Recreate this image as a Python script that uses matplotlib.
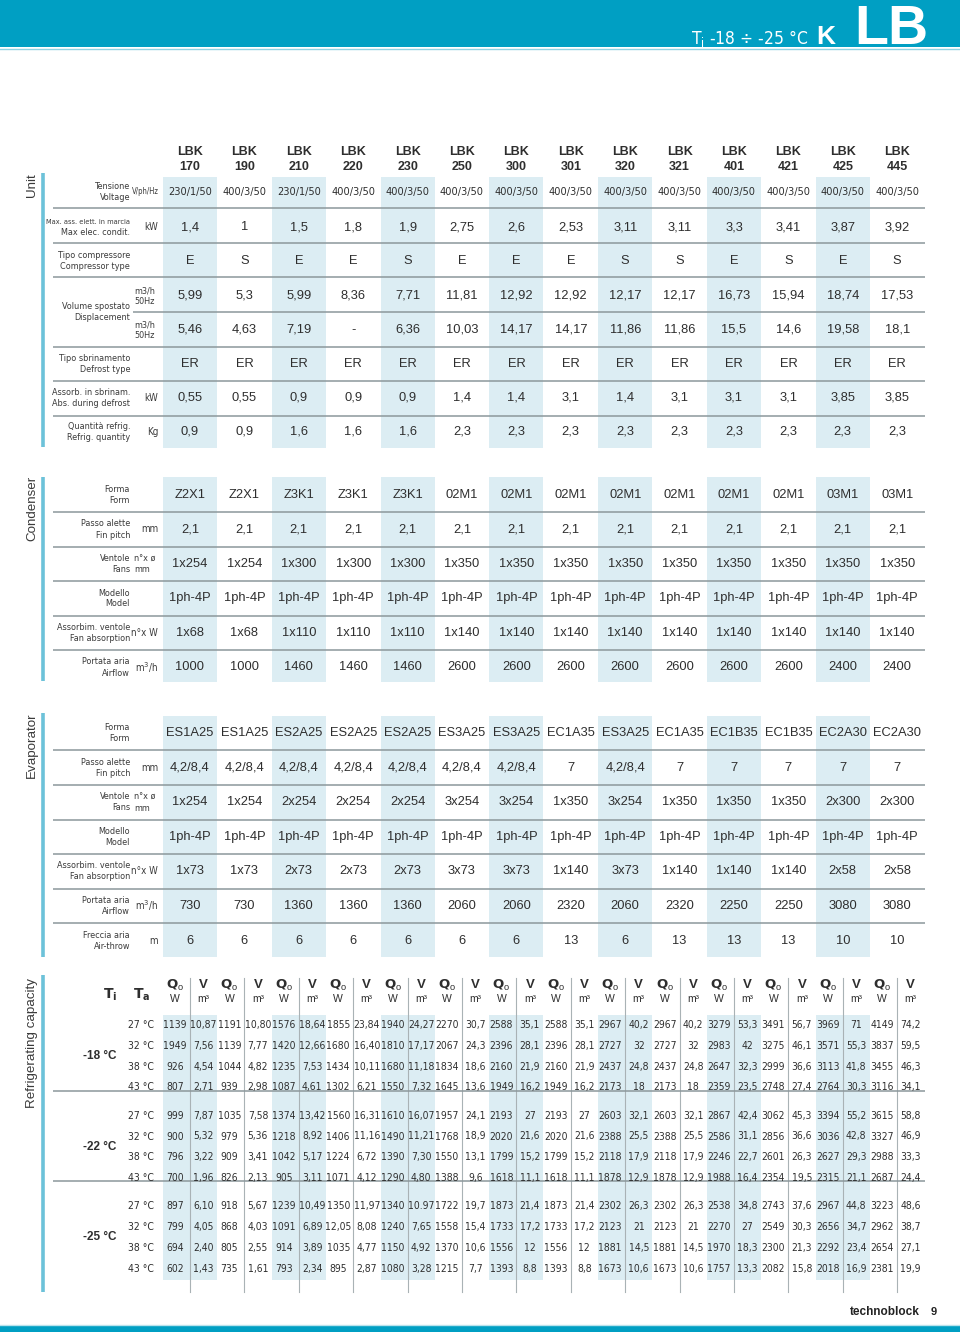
import matplotlib.pyplot as plt
import matplotlib.font_manager as fm
from matplotlib.patches import Rectangle

# ---- data ----
models = ["170", "190", "210", "220", "230", "250", "300",
          "301", "320", "321", "401", "421", "425", "445"]

voltage = ["230/1/50", "400/3/50", "230/1/50", "400/3/50", "400/3/50", "400/3/50", "400/3/50",
           "400/3/50", "400/3/50", "400/3/50", "400/3/50", "400/3/50", "400/3/50", "400/3/50"]
max_elec = ["1,4", "1", "1,5", "1,8", "1,9", "2,75", "2,6",
            "2,53", "3,11", "3,11", "3,3", "3,41", "3,87", "3,92"]
compressor = ["E", "S", "E", "E", "S", "E", "E", "E", "S", "S", "E", "S", "E", "S"]
displ_a = ["5,99", "5,3", "5,99", "8,36", "7,71", "11,81", "12,92",
           "12,92", "12,17", "12,17", "16,73", "15,94", "18,74", "17,53"]
displ_b = ["5,46", "4,63", "7,19", "-", "6,36", "10,03", "14,17",
           "14,17", "11,86", "11,86", "15,5", "14,6", "19,58", "18,1"]
defrost_type = ["ER", "ER", "ER", "ER", "ER", "ER", "ER", "ER", "ER", "ER", "ER", "ER", "ER", "ER"]
defrost_abs = ["0,55", "0,55", "0,9", "0,9", "0,9", "1,4", "1,4",
               "3,1", "1,4", "3,1", "3,1", "3,1", "3,85", "3,85"]
refrig_qty = ["0,9", "0,9", "1,6", "1,6", "1,6", "2,3", "2,3",
              "2,3", "2,3", "2,3", "2,3", "2,3", "2,3", "2,3"]

cond_form = ["Z2X1", "Z2X1", "Z3K1", "Z3K1", "Z3K1", "02M1", "02M1",
             "02M1", "02M1", "02M1", "02M1", "02M1", "03M1", "03M1"]
cond_pitch = ["2,1"] * 14
cond_fans = ["1x254", "1x254", "1x300", "1x300", "1x300", "1x350", "1x350",
             "1x350", "1x350", "1x350", "1x350", "1x350", "1x350", "1x350"]
cond_model = ["1ph-4P"] * 14
cond_fan_abs = ["1x68", "1x68", "1x110", "1x110", "1x110", "1x140", "1x140",
                "1x140", "1x140", "1x140", "1x140", "1x140", "1x140", "1x140"]
cond_airflow = ["1000", "1000", "1460", "1460", "1460", "2600", "2600",
                "2600", "2600", "2600", "2600", "2600", "2400", "2400"]

evap_form = ["ES1A25", "ES1A25", "ES2A25", "ES2A25", "ES2A25", "ES3A25", "ES3A25",
             "EC1A35", "ES3A25", "EC1A35", "EC1B35", "EC1B35", "EC2A30", "EC2A30"]
evap_pitch = ["4,2/8,4", "4,2/8,4", "4,2/8,4", "4,2/8,4", "4,2/8,4", "4,2/8,4", "4,2/8,4",
              "7", "4,2/8,4", "7", "7", "7", "7", "7"]
evap_fans = ["1x254", "1x254", "2x254", "2x254", "2x254", "3x254", "3x254",
             "1x350", "3x254", "1x350", "1x350", "1x350", "2x300", "2x300"]
evap_model = ["1ph-4P"] * 14
evap_fan_abs = ["1x73", "1x73", "2x73", "2x73", "2x73", "3x73", "3x73",
                "1x140", "3x73", "1x140", "1x140", "1x140", "2x58", "2x58"]
evap_airflow = ["730", "730", "1360", "1360", "1360", "2060", "2060",
                "2320", "2060", "2320", "2250", "2250", "3080", "3080"]
evap_throw = ["6", "6", "6", "6", "6", "6", "6", "13", "6", "13", "13", "13", "10", "10"]

t_inside = ["-18 °C", "-22 °C", "-25 °C"]
t_ambient = ["27 °C", "32 °C", "38 °C", "43 °C"]

q_18 = [["1139", "1191", "1576", "1855", "1940", "2270", "2588", "2588", "2967", "2967", "3279", "3491", "3969", "4149"],
        ["1949", "1139", "1420", "1680", "1810", "2067", "2396", "2396", "2727", "2727", "2983", "3275", "3571", "3837"],
        ["926", "1044", "1235", "1434", "1680", "1834", "2160", "2160", "2437", "2437", "2647", "2999", "3113", "3455"],
        ["807", "939", "1087", "1302", "1550", "1645", "1949", "1949", "2173", "2173", "2359", "2748", "2764", "3116"]]
v_18 = [["10,87", "10,80", "18,64", "23,84", "24,27", "30,7", "35,1", "35,1", "40,2", "40,2", "53,3", "56,7", "71", "74,2"],
        ["7,56", "7,77", "12,66", "16,40", "17,17", "24,3", "28,1", "28,1", "32", "32", "42", "46,1", "55,3", "59,5"],
        ["4,54", "4,82", "7,53", "10,11", "11,18", "18,6", "21,9", "21,9", "24,8", "24,8", "32,3", "36,6", "41,8", "46,3"],
        ["2,71", "2,98", "4,61", "6,21", "7,32", "13,6", "16,2", "16,2", "18", "18", "23,5", "27,4", "30,3", "34,1"]]
q_22 = [["999", "1035", "1374", "1560", "1610", "1957", "2193", "2193", "2603", "2603", "2867", "3062", "3394", "3615"],
        ["900", "979", "1218", "1406", "1490", "1768", "2020", "2020", "2388", "2388", "2586", "2856", "3036", "3327"],
        ["796", "909", "1042", "1224", "1390", "1550", "1799", "1799", "2118", "2118", "2246", "2601", "2627", "2988"],
        ["700", "826", "905", "1071", "1290", "1388", "1618", "1618", "1878", "1878", "1988", "2354", "2315", "2687"]]
v_22 = [["7,87", "7,58", "13,42", "16,31", "16,07", "24,1", "27", "27", "32,1", "32,1", "42,4", "45,3", "55,2", "58,8"],
        ["5,32", "5,36", "8,92", "11,16", "11,21", "18,9", "21,6", "21,6", "25,5", "25,5", "31,1", "36,6", "42,8", "46,9"],
        ["3,22", "3,41", "5,17", "6,72", "7,30", "13,1", "15,2", "15,2", "17,9", "17,9", "22,7", "26,3", "29,3", "33,3"],
        ["1,96", "2,13", "3,11", "4,12", "4,80", "9,6", "11,1", "11,1", "12,9", "12,9", "16,4", "19,5", "21,1", "24,4"]]
q_25 = [["897", "918", "1239", "1350", "1340", "1722", "1873", "1873", "2302", "2302", "2538", "2743", "2967", "3223"],
        ["799", "868", "1091", "12,05", "1240", "1558", "1733", "1733", "2123", "2123", "2270", "2549", "2656", "2962"],
        ["694", "805", "914", "1035", "1150", "1370", "1556", "1556", "1881", "1881", "1970", "2300", "2292", "2654"],
        ["602", "735", "793", "895", "1080", "1215", "1393", "1393", "1673", "1673", "1757", "2082", "2018", "2381"]]
v_25 = [["6,10", "5,67", "10,49", "11,97", "10.97", "19,7", "21,4", "21,4", "26,3", "26,3", "34,8", "37,6", "44,8", "48,6"],
        ["4,05", "4,03", "6,89", "8,08", "7,65", "15,4", "17,2", "17,2", "21", "21", "27", "30,3", "34,7", "38,7"],
        ["2,40", "2,55", "3,89", "4,77", "4,92", "10,6", "12", "12", "14,5", "14,5", "18,3", "21,3", "23,4", "27,1"],
        ["1,43", "1,61", "2,34", "2,87", "3,28", "7,7", "8,8", "8,8", "10,6", "10,6", "13,3", "15,8", "16,9", "19,9"]]

# ---- style ----
TEAL = "#009fc3"
BAR = "#6cc2d9"
SHADE = "#dcedf3"
LINE = "#8c979b"
TXT = "#2e2e2e"
LAB = "#3a3a3a"
SANS = dict(family=["Liberation Sans", "DejaVu Sans"])

# pick a condensed face if one is installed
_fonts = fm.fontManager.ttflist
if any(f.name == "Liberation Sans Narrow" for f in _fonts):
    NARROW = dict(family=["Liberation Sans Narrow", "DejaVu Sans"])
elif any(f.name == "DejaVu Sans" and "condensed" in str(f.stretch) for f in _fonts):
    NARROW = dict(family=["DejaVu Sans"], stretch="condensed")
else:
    NARROW = dict(family=["Liberation Sans", "DejaVu Sans"])

fig = plt.figure(figsize=(9.6, 13.32), dpi=100)
ax = fig.add_axes([0, 0, 1, 1])
ax.set_xlim(0, 960)
ax.set_ylim(1332, 0)
ax.axis("off")
renderer = fig.canvas.get_renderer()


def fit_size(sample, target_px, kw, cap):
    t = ax.text(0, 0, sample, fontsize=10, **kw)
    w = t.get_window_extent(renderer).width
    t.remove()
    return min(cap, 10 * target_px / w)


CAP_SIZE = fit_size("1139", 23.3, NARROW, 8.3)
LAB_SIZE = fit_size("Tipo compressore", 72, NARROW, 7.5)
VOLT_SIZE = fit_size("400/3/50", 44, NARROW, 9)
TA_SIZE = fit_size("27 °C", 26, NARROW, 8.5)

col_x = [190 + 54.4 * i for i in range(len(models))]
X_LAB, X_UNIT, X_END = 130, 134, 925
Q_OFF, V_OFF = -15, 13.5


def hline(y, x0=53):
    ax.plot([x0, X_END], [y, y], color=LINE, lw=1.1, solid_capstyle="butt")


def shade(y0, y1):
    for i, cx in enumerate(col_x):
        if i % 2 == 0:
            ax.add_patch(Rectangle((cx - 27, y0), 54, y1 - y0, color=SHADE, lw=0, zorder=0))


def side(title, y0, y1, ty):
    ax.plot([43, 43], [y0, y1], color=BAR, lw=2.6, solid_capstyle="butt")
    ax.text(32, ty, title, rotation=90, ha="center", va="center",
            fontsize=9.6, color=LAB, **SANS)


def label(y, it, en, unit=None, unit2=None):
    for txt, dy in ((it, -5.5), (en, 5.5)):
        if txt:
            size = min(LAB_SIZE, fit_size(txt, 84, NARROW, 9))
            ax.text(X_LAB, y + dy, txt, ha="right", va="center", fontsize=size, color=LAB, **NARROW)
    if unit and unit2:
        ax.text(X_UNIT, y - 5, unit, ha="left", va="center", fontsize=LAB_SIZE, color=LAB, **NARROW)
        ax.text(X_UNIT, y + 6, unit2, ha="left", va="center", fontsize=LAB_SIZE, color=LAB, **NARROW)
    elif unit:
        ax.text(158, y, unit, ha="right", va="center", fontsize=LAB_SIZE + 0.5, color=LAB, **NARROW)


def values(y, vals, size=9.3, kw=SANS):
    for cx, v in zip(col_x, vals):
        ax.text(cx, y, v, ha="center", va="center", fontsize=size, color=TXT, **kw)


# ---- top band ----
ax.add_patch(Rectangle((0, 0), 960, 47, color=TEAL, lw=0))
ax.plot([0, 960], [48.5, 48.5], color="#8fd2e3", lw=1)
ax.text(808, 44, r"T$_\mathregular{i}$ -18 ÷ -25 °C", ha="right", va="baseline",
        fontsize=12.5, color="white", **NARROW)
ax.text(826, 44, "K", ha="center", va="baseline", fontsize=19, color="white",
        fontweight="bold", **SANS)
ax.text(891, 44, "LB", ha="center", va="baseline", fontsize=40, color="white",
        fontweight="heavy", **SANS)

# ---- model header ----
for cx, m in zip(col_x, models):
    ax.text(cx, 152, "LBK", ha="center", va="center", fontsize=9, fontweight="bold", color=TXT, **SANS)
    ax.text(cx, 167, m, ha="center", va="center", fontsize=9, fontweight="bold", color=TXT, **SANS)

# ---- unit ----
shade(177, 448)
side("Unit", 173, 447, 185)
label(192, "Tensione", "Voltage")
ax.text(132, 192, "V/ph/Hz", ha="left", va="center", fontsize=LAB_SIZE - 1, color=LAB, **NARROW)
values(192, voltage, VOLT_SIZE, NARROW)
hline(208)
label(227, "Max. ass. elett. in marcia", "Max elec. condit.", "kW")
values(227, max_elec)
hline(243)
label(261, "Tipo compressore", "Compressor type")
values(261, compressor)
hline(277)
label(312, "Volume spostato", "Displacement")
label(296, "", "", "m3/h", "50Hz")
label(330, "", "", "m3/h", "50Hz")
values(296, displ_a)
hline(312, 133)
values(330, displ_b)
hline(347)
label(364, "Tipo sbrinamento", "Defrost type")
values(364, defrost_type)
hline(381)
label(398, "Assorb. in sbrinam.", "Abs. during defrost", "kW")
values(398, defrost_abs)
hline(416)
label(432, "Quantità refrig.", "Refrig. quantity", "Kg")
values(432, refrig_qty)

# ---- condenser ----
shade(477, 682)
side("Condenser", 477, 681, 508)
cond_rows = [("Forma", "Form", None, None, cond_form),
             ("Passo alette", "Fin pitch", "mm", None, cond_pitch),
             ("Ventole", "Fans", "n°x ø", "mm", cond_fans),
             ("Modello", "Model", None, None, cond_model),
             ("Assorbim. ventole", "Fan absorption", "n°x W", None, cond_fan_abs),
             ("Portata aria", "Airflow", r"m$^3$/h", None, cond_airflow)]
for k, (it, en, u, u2, vals) in enumerate(cond_rows):
    y = 495 + 34.5 * k
    label(y, it, en, u, u2)
    values(y, vals)
    if k > 0:
        hline(y - 17.3)

# ---- evaporator ----
shade(716, 957)
side("Evaporator", 713, 957, 745)
evap_rows = [("Forma", "Form", None, None, evap_form),
             ("Passo alette", "Fin pitch", "mm", None, evap_pitch),
             ("Ventole", "Fans", "n°x ø", "mm", evap_fans),
             ("Modello", "Model", None, None, evap_model),
             ("Assorbim. ventole", "Fan absorption", "n°x W", None, evap_fan_abs),
             ("Portata aria", "Airflow", r"m$^3$/h", None, evap_airflow),
             ("Freccia aria", "Air-throw", "m", None, evap_throw)]
for k, (it, en, u, u2, vals) in enumerate(evap_rows):
    y = 733 + 34.6 * k
    label(y, it, en, u, u2)
    values(y, vals)
    if k > 0:
        hline(y - 17.3)

# ---- refrigerating capacity ----
shade(1015, 1280)
side("Refrigerating capacity", 975, 1292, 1043)
for cx in col_x:
    ax.plot([cx, cx], [978, 1292], color="#a9b2b5", lw=0.8)
    ax.text(cx + Q_OFF, 985, r"$\mathbf{Q}_\mathregular{o}$", ha="center", va="center",
            fontsize=9.5, color=TXT, **SANS)
    ax.text(cx + Q_OFF, 999, "W", ha="center", va="center", fontsize=7.5, color=TXT, **SANS)
    ax.text(cx + V_OFF, 985, "V", ha="center", va="center", fontsize=9.5, fontweight="bold",
            color=TXT, **SANS)
    ax.text(cx + V_OFF, 999, "m³", ha="center", va="center", fontsize=7.5, color=TXT, **SANS)
ax.text(110, 995, r"$\mathbf{T}_\mathbf{i}$", ha="center", va="center", fontsize=10, color=TXT)
ax.text(142, 995, r"$\mathbf{T}_\mathbf{a}$", ha="center", va="center", fontsize=10, color=TXT)

blocks = [(q_18, v_18), (q_22, v_22), (q_25, v_25)]
for b, (qs, vs) in enumerate(blocks):
    y0 = 1025 + 90.7 * b
    if b > 0:
        hline(y0 - 25)
    ax.text(100, y0 + 31, t_inside[b], ha="center", va="center", fontsize=8.5,
            fontweight="bold", color=TXT, **SANS)
    for r in range(4):
        y = y0 + 20.8 * r
        ax.text(141, y, t_ambient[r], ha="center", va="center", fontsize=TA_SIZE, color=TXT, **NARROW)
        for cx, q, v in zip(col_x, qs[r], vs[r]):
            ax.text(cx + Q_OFF, y, q, ha="center", va="center", fontsize=CAP_SIZE, color=TXT, **NARROW)
            ax.text(cx + V_OFF, y, v, ha="center", va="center", fontsize=CAP_SIZE, color=TXT, **NARROW)

# ---- footer ----
ax.text(920, 1312, "technoblock", ha="right", va="center", fontsize=8.5, fontweight="bold",
        color="#222222", **SANS)
ax.text(934, 1312, "9", ha="center", va="center", fontsize=8, fontweight="bold", color="#222222", **SANS)
ax.plot([0, 960], [1324.5, 1324.5], color="#b9e2ec", lw=1)
ax.add_patch(Rectangle((0, 1326), 960, 6, color=TEAL, lw=0))

fig.savefig("out.png", dpi=100)
